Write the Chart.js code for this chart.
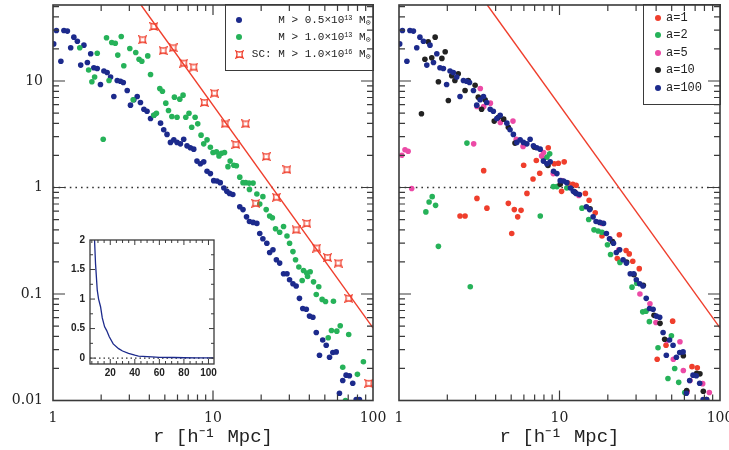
<!DOCTYPE html>
<html>
<head>
<meta charset="utf-8">
<script src="https://cdn.jsdelivr.net/npm/chart.js@4.4.1/dist/chart.umd.min.js"></script>
<style>
  html, body { margin: 0; padding: 0; background: #fff; }
  body { width: 729px; height: 450px; position: relative; overflow: hidden; }
  canvas { position: absolute; }
  #leftChart { left: 0; top: 0; }
  #rightChart { left: 392px; top: 0; }
  #insetChart { left: 60px; top: 232px; }
  .legend { position: absolute; box-sizing: border-box; border: 1.6px solid #3a3a3a;
            font-family: "Liberation Mono", monospace; color: #222; }
  .legend .row { position: absolute; height: 14px; line-height: 14px; white-space: nowrap; }
  .legend .dot { position: absolute; width: 6px; height: 6px; border-radius: 50%; }
  sup { font-size: 0.62em; vertical-align: 0.5em; line-height: 0; }
  sub { font-size: 0.75em; vertical-align: -0.25em; line-height: 0; }
</style>
</head>
<body>
<canvas id="leftChart" width="392" height="450"></canvas>
<canvas id="rightChart" width="337" height="450"></canvas>
<canvas id="insetChart" width="165" height="153"></canvas>

<div class="legend" style="left:225px;top:4px;width:149px;height:67px;font-size:11px">
  <div class="row" style="top:8.4px;left:0;right:2.4px;text-align:right">
    <span class="dot" style="left:10px;top:4px;background:#1c2a8c"></span>M &gt; 0.5×10<sup>13</sup> M<sub>⊙</sub></div>
  <div class="row" style="top:25px;left:0;right:2.4px;text-align:right">
    <span class="dot" style="left:10px;top:4px;background:#26b259"></span>M &gt; 1.0×10<sup>13</sup> M<sub>⊙</sub></div>
  <div class="row" style="top:42.4px;left:0;right:2.4px;text-align:right">
    <svg width="9" height="9" viewBox="0 0 9 9" style="position:absolute;left:8.5px;top:2.5px"><path d="M1,1 Q4.5,3 8,1 Q6,4.5 8,8 Q4.5,6 1,8 Q3,4.5 1,1Z" fill="none" stroke="#ef3e2c" stroke-width="1.3"/></svg>SC: M &gt; 1.0×10<sup>16</sup> M<sub>⊙</sub></div>
</div>

<div class="legend" style="left:643px;top:4px;width:78px;height:101px;font-size:12px">
  <div class="row" style="top:6.1px;left:22px"><span class="dot" style="left:-11px;top:4px;background:#ef3e2c"></span>a=1</div>
  <div class="row" style="top:23.4px;left:22px"><span class="dot" style="left:-11px;top:4px;background:#26b259"></span>a=2</div>
  <div class="row" style="top:40.7px;left:22px"><span class="dot" style="left:-11px;top:4px;background:#ec4aa6"></span>a=5</div>
  <div class="row" style="top:58.4px;left:22px"><span class="dot" style="left:-11px;top:4px;background:#222"></span>a=10</div>
  <div class="row" style="top:76.1px;left:22px"><span class="dot" style="left:-11px;top:4px;background:#1c2a8c"></span>a=100</div>
</div>

<script>
// ---- data (r in h^-1 Mpc, xi dimensionless) ----

// left panel: M > 0.5e13
const m05R = [1.01,1.05,1.12,1.17,1.23,1.29,1.35,1.42,1.49,1.56,1.64,1.72,1.80,1.89,1.98,2.08,2.18,2.29,2.40,2.52,
  2.64,2.75,2.91,3.05,3.20,3.36,3.52,3.70,3.87,4.07,4.27,4.70,4.92,5.16,5.42,5.69,5.96,6.26,6.56,6.88,
  7.22,7.58,7.94,8.34,8.75,9.18,9.63,10.1,10.6,11.1,11.7,12.2,12.7,13.3,14.7,15.4,16.2,16.9,17.8,18.8,
  19.6,20.5,21.7,22.6,23.7,24.9,26.1,27.6,29.0,30.1,31.6,33.1,34.7,36.4,38.3,40.1,42.1,44.2,46.3,48.5,
  51.0,53.5,56.1,58.9,61.7,64.7,67.9,71.2,74.7,78.5,82.3];
const m05Xi = [22.3,29.8,15.3,29.8,29.4,20.5,25.8,23.6,14.1,21.7,14.9,18.0,13.3,13.1,9.27,12.4,12.0,10.9,7.15,10.1,
  9.95,9.68,8.15,5.93,6.66,7.15,6.28,5.43,5.20,4.45,4.77,4.02,3.48,3.15,2.65,2.80,2.65,2.57,2.84,2.46,
  2.36,2.29,1.77,1.67,1.74,1.42,1.35,1.16,1.15,1.11,0.99,0.92,0.88,0.86,0.66,0.62,0.53,0.48,0.47,0.46,
  0.37,0.33,0.30,0.245,0.26,0.21,0.195,0.155,0.155,0.136,0.125,0.119,0.091,0.073,0.072,0.062,0.0605,0.0435,0.0266,0.037,
  0.033,0.0255,0.0282,0.0286,0.0117,0.0154,0.0173,0.0171,0.0145,0.0102,0.0102];

// left panel: M > 1.0e13
const m10R = [1.47,1.67,1.75,1.82,1.89,2.06,2.16,2.24,2.33,2.45,2.54,2.67,2.77,3.02,3.17,3.29,3.45,3.59,3.91,4.07,
  4.27,4.43,4.65,4.83,5.07,5.27,5.53,5.74,5.96,6.20,6.50,6.76,7.08,7.36,7.73,8.03,8.42,8.75,9.18,9.63,
  10.0,10.5,10.9,11.3,11.8,12.4,12.8,13.5,14.0,14.7,15.4,16.0,16.8,17.8,16.9,18.8,20.5,19.6,21.5,22.6,
  23.5,24.6,26.1,27.6,29.0,30.1,31.6,32.8,34.4,36.8,38.6,40.5,36.1,39.0,42.5,45.8,44.2,48.1,50.5,56.6,
  52.5,55.0,59.4,62.4,70.5,64.7,67.3,79.9,87.1];
const m10Xi = [20.5,12.7,9.83,10.9,18.2,2.84,25.5,10.1,23.0,22.6,17.5,26.2,13.9,20.2,6.66,18.5,16.0,15.3,17.2,11.5,
  4.77,4.98,8.50,8.02,6.19,5.28,4.64,7.05,4.57,6.75,7.36,4.57,4.98,3.68,4.57,3.96,3.10,2.57,2.80,2.39,
  2.13,2.16,1.98,2.10,2.13,1.57,1.77,1.62,1.60,1.25,1.11,1.11,1.10,1.10,0.96,0.87,0.82,0.70,0.62,0.54,
  0.52,0.41,0.38,0.43,0.35,0.30,0.25,0.21,0.179,0.166,0.157,0.162,0.134,0.146,0.130,0.117,0.099,0.089,0.085,0.0856,
  0.0388,0.0454,0.0448,0.0503,0.0417,0.0205,0.0100,0.0176,0.0231];

// left panel: SC, M > 1.0e16
const scR = [3.63,4.27,4.88,5.63,6.56,7.58,8.84,10.2,11.9,13.9,16.0,18.5,21.5,24.9,29.0,33.1,38.6,44.5,52.0,60.6,70.5,94.0];
const scXi = [24.4,32.5,19.3,20.5,14.7,13.5,6.28,7.68,3.96,2.53,3.96,0.71,1.95,0.81,1.47,0.40,0.46,0.27,0.22,0.195,0.091,0.0145];

// right panel
const a1R = [2.40,2.58,3.06,3.37,3.53,4.80,5.04,5.23,5.49,5.76,5.98,6.27,6.84,7.17,7.53,8.51,9.28,9.84,10.3,10.7,
  11.3,12.1,12.7,14.5,15.3,16.7,18.4,22.9,23.6,26.0,27.2,28.6,31.4,40.6,46.1,50.7,66.9,72.2];
const a1Xi = [0.54,0.54,0.79,1.44,0.64,0.71,0.37,0.62,0.53,0.61,1.62,0.88,1.20,1.79,1.36,2.36,1.67,1.69,0.92,1.74,
  1.10,1.07,1.05,0.88,0.76,0.58,0.35,0.215,0.36,0.256,0.238,0.203,0.173,0.0244,0.033,0.0556,0.0208,0.0203];

const a2R = [1.47,1.54,1.61,1.69,1.76,2.65,2.78,7.59,7.97,8.36,8.69,9.15,9.64,11.1,13.8,15.2,16.4,17.4,18.4,19.9,
  20.8,23.8,28.3,30.3,33.0,34.6,36.3,41.1,47.4,49.8,52.2,55.3,60.3];
const a2Xi = [0.59,0.73,0.82,0.68,0.28,2.61,0.117,0.54,1.87,1.93,2.07,1.02,1.02,0.99,0.64,0.50,0.40,0.39,0.38,0.29,
  0.235,0.198,0.116,0.126,0.068,0.069,0.055,0.0313,0.0161,0.0405,0.020,0.0148,0.0119];

const a5R = [1.04,1.09,1.14,1.20,2.92,3.06,3.21,3.37,3.71,4.28,5.13,5.38,5.93,7.74,7.96,9.14,10.3,12.5,13.2,18.4,
  20.6,23.4,31.7,36.6,39.9,46.5,51.2,56.3,59.1,62.5,65.0,78.0,85.8];
const a5Xi = [2.01,2.26,2.19,0.98,2.57,5.76,8.50,5.76,6.19,4.08,4.20,2.84,2.43,1.98,2.13,1.35,1.16,0.90,0.84,0.46,
  0.33,0.26,0.100,0.081,0.054,0.0366,0.0244,0.0356,0.0191,0.0121,0.0154,0.0144,0.0119];

const a10R = [1.38,1.45,1.52,1.60,1.68,1.76,1.85,1.94,2.03,2.13,2.23,2.34,2.58,2.70,2.98,3.12,3.27,3.44,3.92,4.16,
  4.49,4.80,5.28,6.97,8.48,10.1,12.4,15.5,21.4,26.2,29.1,33.3,38.8,42.3,45.2,59.1,62.0,71.6,75.0,78.7,82.6];
const a10Xi = [4.92,16.0,23.3,16.5,25.8,9.83,16.3,18.8,6.56,11.2,10.1,11.7,8.15,10.1,9.13,7.05,5.43,6.66,4.20,4.57,
  4.38,3.68,2.61,2.39,1.61,1.07,0.91,0.63,0.31,0.20,0.152,0.121,0.063,0.053,0.0376,0.0263,0.0124,0.018,0.0178,0.0122,0.0102];

// a=100 points sit where the M > 0.5e13 points of the left panel are
const a100R = m05R;
const a100Xi = m05Xi;

// red reference power law, end points
const fitR = [3.55, 100];
const fitXi = [51.7, 0.048];
// dotted xi = 1 line
const unitR = [1, 100];
const unitXi = [1, 1];

// inset (linear axes)
const insetR = [6.8,7.2,8.0,9.4,10.5,12.1,13.5,15.4,17.0,19.2,22.4,26.8,30.0,34.9,40.0,43.0,50.0,54.0,60.0,72.0,80.0,90.0,104];
const insetXi = [2.4,2.0,1.6,1.15,1.0,0.87,0.68,0.53,0.47,0.36,0.24,0.16,0.12,0.08,0.05,0.034,0.025,0.02,0.012,0.01,0.006,0.005,0.003];
const insetZeroR = [3.5, 104.5];
const insetZeroXi = [0, 0];
const insetXTicks = [20, 40, 60, 80, 100];
const insetYTicks = [0, 0.5, 1, 1.5, 2];

const BLUE = '#1c2a8c', GREEN = '#26b259', RED = '#ef3e2c', PINK = '#ec4aa6', BLACK = '#222222';
const FRAME = '#3a3a3a';

const pts = (r, xi) => r.map((v, i) => ({ x: v, y: xi[i] }));

// small square marker with pinched sides, used for the SC points
function scMarker(color) {
  const c = document.createElement('canvas');
  c.width = 9; c.height = 9;
  const g = c.getContext('2d');
  g.strokeStyle = color;
  g.lineWidth = 1.3;
  g.beginPath();
  g.moveTo(1, 1);
  g.quadraticCurveTo(4.5, 3, 8, 1);
  g.quadraticCurveTo(6, 4.5, 8, 8);
  g.quadraticCurveTo(4.5, 6, 1, 8);
  g.quadraticCurveTo(3, 4.5, 1, 1);
  g.closePath();
  g.stroke();
  return c;
}

function decadeMinors(lo, hi) {
  const out = [];
  for (let d = lo; d < hi; d *= 10) for (let k = 2; k <= 9; k++) out.push(k * d);
  return out;
}

// inward ticks on all four sides plus the box
function makeFrame(o) {
  return {
    id: 'frameTicks',
    beforeDatasetsDraw(chart) {
      if (!o.fill) return;
      const a = chart.chartArea, ctx = chart.ctx;
      ctx.save();
      ctx.fillStyle = o.fill;
      ctx.fillRect(a.left, a.top, a.right - a.left, a.bottom - a.top);
      ctx.restore();
    },
    afterDatasetsDraw(chart) {
      const { ctx, chartArea: a, scales } = chart;
      ctx.save();
      ctx.strokeStyle = FRAME;
      ctx.lineWidth = o.tickWidth;
      ctx.beginPath();
      const onX = (vals, len) => vals.forEach(v => {
        const p = scales.x.getPixelForValue(v);
        if (p <= a.left + 0.5 || p >= a.right - 0.5) return;
        ctx.moveTo(p, a.bottom); ctx.lineTo(p, a.bottom - len);
        ctx.moveTo(p, a.top); ctx.lineTo(p, a.top + len);
      });
      const onY = (vals, len) => vals.forEach(v => {
        const p = scales.y.getPixelForValue(v);
        if (p <= a.top + 0.5 || p >= a.bottom - 0.5) return;
        ctx.moveTo(a.left, p); ctx.lineTo(a.left + len, p);
        ctx.moveTo(a.right, p); ctx.lineTo(a.right - len, p);
      });
      onX(o.xMajor, o.xMajorLen);
      onX(o.xMinor, o.minorLen);
      onY(o.yMajor, o.yMajorLen);
      onY(o.yMinor, o.minorLen);
      ctx.stroke();
      ctx.lineWidth = o.frameWidth;
      ctx.strokeRect(a.left, a.top, a.right - a.left, a.bottom - a.top);
      ctx.restore();
    }
  };
}

const fixSize = (w, h) => axis => {
  if (w !== undefined) axis.width = w;
  if (h !== undefined) axis.height = h;
  axis.paddingLeft = axis.paddingRight = axis.paddingTop = axis.paddingBottom = 0;
};

const logLabel = v => {
  const e = Math.log10(v);
  return Math.abs(e - Math.round(e)) < 1e-6 ? String(Number(v.toPrecision(2))) : '';
};

function mainScales(yWidth, showYLabels) {
  return {
    x: {
      type: 'logarithmic', min: 1, max: 100,
      afterFit: fixSize(undefined, 49.5),
      grid: { display: false, drawTicks: false }, border: { display: false },
      ticks: { autoSkip: false, maxRotation: 0, padding: 9, color: '#222',
               font: { family: 'DejaVu Serif', size: 14 }, callback: logLabel },
      title: { display: true, text: 'r [h⁻¹ Mpc]', color: '#222',
               font: { family: 'Liberation Mono', size: 19 }, padding: { top: 0, bottom: 2 } }
    },
    y: {
      type: 'logarithmic', min: 0.01, max: 51.7,
      afterFit: fixSize(yWidth, undefined),
      grid: { display: false, drawTicks: false }, border: { display: false },
      ticks: { display: showYLabels, autoSkip: false, padding: 10, color: '#222',
               font: { family: 'DejaVu Serif', size: 14 }, callback: logLabel }
    }
  };
}

const mainFrame = () => makeFrame({
  xMajor: [1, 10, 100], xMinor: decadeMinors(1, 100),
  yMajor: [0.01, 0.1, 1, 10], yMinor: decadeMinors(0.01, 100),
  xMajorLen: 10, yMajorLen: 12, minorLen: 6, tickWidth: 1.2, frameWidth: 1.6
});

const baseOptions = (padding, scales) => ({
  responsive: false, animation: false,
  layout: { padding },
  plugins: { legend: { display: false }, tooltip: { enabled: false } },
  scales
});

const dots = (r, xi, color, order) => ({
  data: pts(r, xi), pointRadius: 2.8, pointBackgroundColor: color,
  pointBorderColor: color, pointBorderWidth: 0, order, clip: 0
});
const lineSet = (r, xi, color, width, dash, order) => ({
  data: pts(r, xi), showLine: true, borderColor: color, borderWidth: width,
  borderDash: dash, pointRadius: 0, order, clip: 0
});

// left panel
new Chart(document.getElementById('leftChart'), {
  type: 'scatter',
  data: {
    datasets: [
      lineSet(unitR, unitXi, '#333', 1.3, [1.6, 4], 10),
      lineSet(fitR, fitXi, RED, 1.4, [], 9),
      dots(m05R, m05Xi, BLUE, 2),
      dots(m10R, m10Xi, GREEN, 1),
      { data: pts(scR, scXi), pointStyle: scMarker(RED), pointRadius: 4, order: 0, clip: 0 }
    ]
  },
  options: baseOptions({ top: 5, right: 19, bottom: 0, left: 0 }, mainScales(53, true)),
  plugins: [mainFrame()]
});

// right panel
new Chart(document.getElementById('rightChart'), {
  type: 'scatter',
  data: {
    datasets: [
      lineSet(unitR, unitXi, '#333', 1.3, [1.6, 4], 10),
      lineSet(fitR, fitXi, RED, 1.4, [], 9),
      dots(a1R, a1Xi, RED, 4),
      dots(a2R, a2Xi, GREEN, 3),
      dots(a5R, a5Xi, PINK, 2),
      dots(a10R, a10Xi, BLACK, 1),
      dots(a100R, a100Xi, BLUE, 0)
    ]
  },
  options: baseOptions({ top: 5, right: 9, bottom: 0, left: 0 }, mainScales(7, false)),
  plugins: [mainFrame()]
});

// inset, linear axes
const insetXMinor = [];
for (let v = 5; v <= 100; v += 5) if (!insetXTicks.includes(v)) insetXMinor.push(v);

new Chart(document.getElementById('insetChart'), {
  type: 'scatter',
  data: {
    datasets: [
      lineSet(insetZeroR, insetZeroXi, '#333', 1.2, [1.5, 3], 1),
      lineSet(insetR, insetXi, BLUE, 1.3, [], 0)
    ]
  },
  options: baseOptions({ top: 8, right: 11, bottom: 0, left: 0 }, {
    x: {
      type: 'linear', min: 3.5, max: 104.5,
      afterFit: fixSize(undefined, 21),
      afterBuildTicks: axis => { axis.ticks = insetXTicks.map(v => ({ value: v })); },
      grid: { display: false, drawTicks: false }, border: { display: false },
      ticks: { autoSkip: false, maxRotation: 0, padding: 3, color: '#222',
               font: { family: 'Liberation Sans', size: 10, weight: 'bold' },
               callback: v => String(v) }
    },
    y: {
      type: 'linear', min: -0.1, max: 2,
      afterFit: fixSize(30, undefined),
      afterBuildTicks: axis => { axis.ticks = insetYTicks.map(v => ({ value: v })); },
      grid: { display: false, drawTicks: false }, border: { display: false },
      ticks: { autoSkip: false, padding: 5, color: '#222',
               font: { family: 'Liberation Sans', size: 10, weight: 'bold' },
               callback: v => String(v) }
    }
  }),
  plugins: [makeFrame({
    fill: '#fff',
    xMajor: insetXTicks, xMinor: insetXMinor,
    yMajor: insetYTicks, yMinor: [0.25, 0.75, 1.25, 1.75],
    xMajorLen: 5, yMajorLen: 5, minorLen: 3, tickWidth: 1, frameWidth: 1.3
  })]
});
</script>
</body>
</html>
